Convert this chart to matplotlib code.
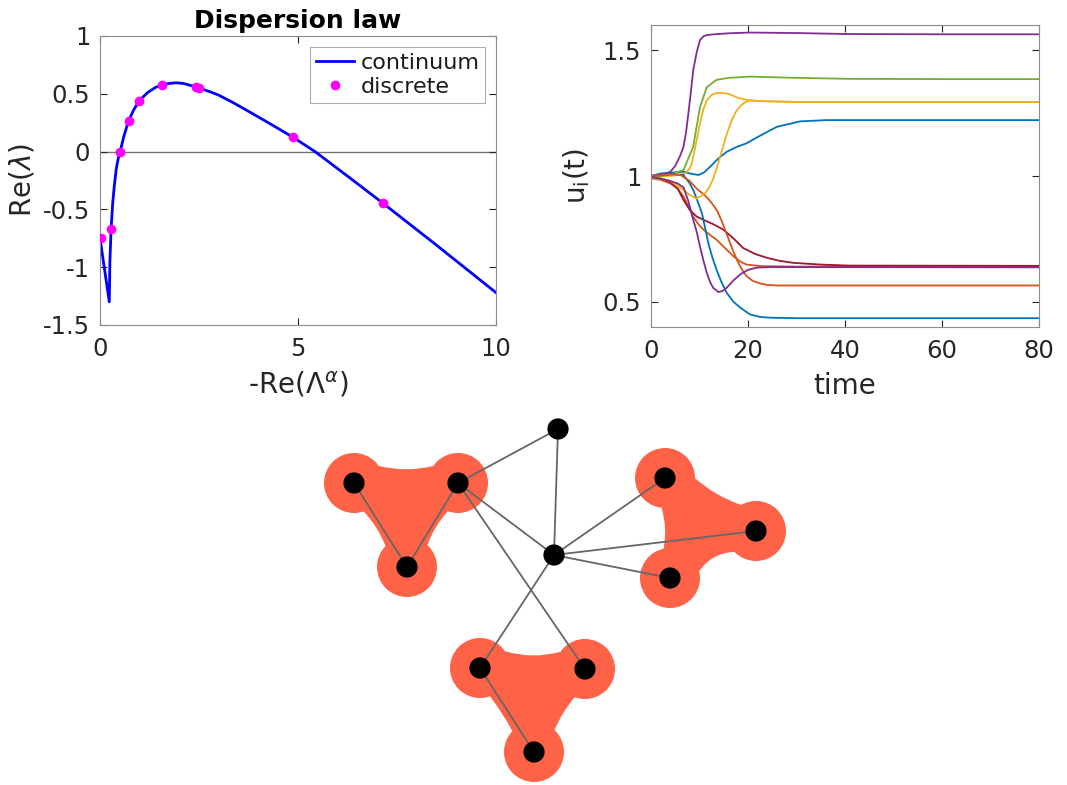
import numpy as np
import matplotlib
matplotlib.use('Agg')
import matplotlib.pyplot as plt
from matplotlib.path import Path
from matplotlib.patches import PathPatch, Circle

plt.rcParams['font.family'] = ['DejaVu Sans']
plt.rcParams['mathtext.fontset'] = 'dejavusans'

# ---------------- dispersion law ----------------
cont_x = [0, 0.235, 0.25, 0.28, 0.32, 0.36, 0.41, 0.46, 0.51, 0.6, 0.72, 0.85, 0.99,
          1.2, 1.4, 1.56, 1.75, 1.92, 2.1, 2.42, 2.8, 3.0, 3.37, 3.64, 4.2, 4.87, 5.43,
          6.3, 7.14, 8.5, 10]
cont_y = [-0.75, -1.30, -0.95, -0.67, -0.45, -0.30, -0.15, -0.06, 0.0, 0.13, 0.265,
          0.36, 0.44, 0.51, 0.555, 0.577, 0.59, 0.595, 0.59, 0.56, 0.515, 0.488, 0.422,
          0.37, 0.26, 0.125, 0.0, -0.225, -0.445, -0.81, -1.22]
disc_x = [0.03, 0.28, 0.51, 0.72, 0.99, 1.56, 2.42, 2.51, 4.87, 7.14]
disc_y = [-0.75, -0.67, 0.0, 0.264, 0.442, 0.577, 0.56, 0.548, 0.125, -0.445]

# ---------------- time series u_i(t) ----------------
series = [
    # (colour, t, u)
    ('#0072BD', [0, 2, 4, 6.7, 8, 9.8, 11, 12.2, 13.9, 15.6, 17.6, 19.7, 22, 25.9, 30.7, 36, 41, 80],
                [1.0, 1.01, 1.013, 1.017, 1.01, 1.004, 1.015, 1.037, 1.07, 1.096, 1.115, 1.13,
                 1.155, 1.195, 1.217, 1.222, 1.222, 1.222]),
    ('#D95319', [0, 2, 4, 5.5, 6.7, 7.7, 8.7, 9.7, 10.8, 12, 13.5, 15.2, 17, 18.4, 19.7, 22.5, 30, 80],
                [0.99, 0.985, 0.97, 0.95, 0.918, 0.88, 0.839, 0.81, 0.787, 0.768, 0.747, 0.715,
                 0.681, 0.66, 0.648, 0.642, 0.64, 0.64]),
    ('#EDB120', [0, 2, 4, 6, 7, 8, 8.4, 9.4, 10.1, 10.8, 11.5, 12.5, 13.5, 15, 16.3, 18, 19.7, 22, 30, 80],
                [0.995, 1.0, 1.0, 1.005, 1.01, 1.03, 1.05, 1.14, 1.21, 1.265, 1.30, 1.322, 1.33,
                 1.33, 1.324, 1.31, 1.303, 1.298, 1.294, 1.294]),
    ('#7E2F8E', [0, 2, 3, 4, 5, 5.5, 6, 6.7, 7.2, 7.7, 8.2, 8.7, 9.4, 10.1, 10.8, 11.5, 13, 16, 20.4,
                 30, 41, 60, 80],
                [1.0, 1.005, 1.01, 1.017, 1.04, 1.06, 1.08, 1.116, 1.17, 1.248, 1.33, 1.42, 1.49,
                 1.54, 1.555, 1.56, 1.563, 1.567, 1.57, 1.568, 1.564, 1.563, 1.563]),
    ('#77AC30', [0, 2, 4, 6.7, 8.7, 10.1, 11.5, 13.5, 16, 20.4, 30, 41, 60, 80],
                [1.0, 1.0, 1.005, 1.024, 1.116, 1.274, 1.353, 1.382, 1.39, 1.395, 1.39, 1.386,
                 1.385, 1.385]),
    ('#A2142F', [0, 2, 4, 5.5, 6.7, 8, 9.4, 11.5, 13, 14.9, 17, 19, 21.5, 23.9, 26.5, 29.3, 35, 41, 80],
                [0.995, 0.99, 0.975, 0.95, 0.905, 0.865, 0.839, 0.82, 0.807, 0.787, 0.752, 0.714,
                 0.69, 0.675, 0.663, 0.655, 0.648, 0.644, 0.643]),
    ('#0072BD', [0, 2, 4, 6.7, 8, 8.7, 9.6, 10.5, 11.2, 11.8, 12.6, 13.5, 14.5, 15.6, 17, 18.4, 20.4,
                 22.5, 24.5, 30, 80],
                [1.0, 1.005, 1.008, 1.004, 0.97, 0.945, 0.90, 0.853, 0.79, 0.734, 0.68, 0.628,
                 0.58, 0.536, 0.50, 0.477, 0.45, 0.44, 0.437, 0.435, 0.435]),
    ('#D95319', [0, 2, 4, 6, 8, 9.4, 11, 12, 12.8, 13.7, 14.6, 15.5, 16.3, 17.2, 18, 18.8, 19.7, 21,
                 22.5, 24, 25.9, 80],
                [1.0, 1.003, 1.006, 1.005, 0.98, 0.95, 0.925, 0.905, 0.885, 0.86, 0.82, 0.775,
                 0.734, 0.69, 0.655, 0.627, 0.602, 0.583, 0.573, 0.567, 0.565, 0.565]),
    ('#EDB120', [0, 2, 4, 6.7, 8, 9.4, 11.1, 12, 12.85, 13.7, 14.6, 15.6, 16.6, 17.5, 18.4, 19.4,
                 20.4, 22, 30, 80],
                [0.99, 0.99, 0.98, 0.945, 0.925, 0.91, 0.93, 0.955, 0.99, 1.04, 1.10, 1.165,
                 1.22, 1.255, 1.278, 1.293, 1.30, 1.298, 1.294, 1.294]),
    ('#7E2F8E', [0, 2, 4, 5.5, 6.7, 7.7, 8.7, 9.4, 10.1, 10.8, 11.5, 12.2, 12.8, 13.9, 14.8, 15.6,
                 17, 18.4, 20, 21.8, 25, 80],
                [0.995, 0.99, 0.98, 0.97, 0.955, 0.9, 0.826, 0.78, 0.72, 0.665, 0.615, 0.578,
                 0.556, 0.539, 0.543, 0.556, 0.585, 0.609, 0.627, 0.636, 0.638, 0.637]),
]

# ---------------- hypergraph layout (figure pixels) ----------------
node_x = [558, 554, 354, 458, 407, 665, 756, 670, 480, 585, 534]
node_y = [429, 555, 483, 483, 567, 478, 531, 578, 668, 669, 752]
edges = [(0, 3), (0, 1), (3, 1), (3, 9), (3, 4), (2, 4), (1, 5), (1, 6), (1, 7), (1, 8), (8, 10)]
triangles = [(2, 3, 4), (5, 6, 7), (8, 9, 10)]
# per side of each triangle: (offset where the side leaves the node circle,
#                             offset at the middle of the side), pixels from centre line
side_shape = [((17, 13.7), (6, 4), (7, 5)),
              ((15, 12.3), (8, 3), (5, 2.4)),
              ((17, 13), (6, 4.5), (7, 6))]

BLOB_R = 30
NODE_R = 10.6
BLOB_COLOR = '#FF6347'


def style_axes(ax):
    ax.tick_params(direction='in', length=5, width=0.8, top=True, right=True,
                   labelsize=17.5, colors='0.15', pad=7)
    ax.tick_params(axis='x', pad=9)
    for s in ax.spines.values():
        s.set_color('0.55')
        s.set_linewidth(0.8)


def blob_path(pts, shape, r):
    pts = np.asarray(pts, dtype=float)
    cen = pts.mean(axis=0)
    verts, codes = [], []
    for k in range(3):
        a, b = pts[k], pts[(k + 1) % 3]
        h, m = shape[k]
        d = b - a
        u = d / np.hypot(*d)
        n = np.array([-u[1], u[0]])
        if np.dot((a + b) / 2 - cen, n) < 0:
            n = -n
        s = np.sqrt(r ** 2 - h ** 2)
        p0 = a + h * n + s * u
        p2 = b + h * n - s * u
        c = (a + b) / 2 + (2 * m - h) * n
        verts.append(p0)
        codes.append(Path.MOVETO if k == 0 else Path.LINETO)
        verts += [c, p2]
        codes += [Path.CURVE3, Path.CURVE3]
    verts.append(verts[0])
    codes.append(Path.CLOSEPOLY)
    return Path(verts, codes)


fig = plt.figure(figsize=(10.67, 7.85), dpi=100)

# network panel spans the whole figure in pixel coordinates
axn = fig.add_axes([0, 0, 1, 1], zorder=0)
axn.set_xlim(0, 1067)
axn.set_ylim(785, 0)
axn.axis('off')
for tri, sh in zip(triangles, side_shape):
    pts = [(node_x[i], node_y[i]) for i in tri]
    axn.add_patch(PathPatch(blob_path(pts, sh, BLOB_R), facecolor=BLOB_COLOR,
                            edgecolor='none', zorder=1))
    for (px, py) in pts:
        axn.add_patch(Circle((px, py), BLOB_R, facecolor=BLOB_COLOR, edgecolor='none', zorder=1))
for i, j in edges:
    axn.plot([node_x[i], node_x[j]], [node_y[i], node_y[j]], color='#666666', lw=1.3, zorder=2)
for px, py in zip(node_x, node_y):
    axn.add_patch(Circle((px, py), NODE_R, facecolor='black', edgecolor='none', zorder=3))

# dispersion law
ax1 = fig.add_axes([100 / 1067, 1 - 325 / 785, 396 / 1067, 289 / 785], zorder=2)
ax1.axhline(0, color='0.45', lw=1.0, zorder=1)
ax1.plot(cont_x, cont_y, color='#0000FF', lw=2, label='continuum', zorder=2)
ax1.plot(disc_x, disc_y, 'o', color='#FF00FF', ms=7, mec='none', label='discrete', zorder=3)
ax1.set_xlim(0, 10)
ax1.set_ylim(-1.5, 1)
ax1.set_xticks([0, 5, 10])
ax1.set_xticklabels(['0', '5', '10'])
ax1.set_yticks([-1.5, -1, -0.5, 0, 0.5, 1])
ax1.set_yticklabels(['-1.5', '-1', '-0.5', '0', '0.5', '1'])
style_axes(ax1)
ax1.set_title('Dispersion law', fontsize=18, fontweight='bold', pad=6)
ax1.set_xlabel(r'-Re($\Lambda^{\alpha}$)', fontsize=20, color='0.15', labelpad=6)
ax1.set_ylabel(r'Re($\lambda$)', fontsize=20, color='0.15', labelpad=5)
leg = ax1.legend(loc='upper right', fontsize=16, frameon=True, fancybox=False,
                 handlelength=1.7, handletextpad=0.3, borderpad=0.25, labelspacing=0.2,
                 borderaxespad=0.5, numpoints=1)
leg.get_frame().set_edgecolor('0.6')
leg.get_frame().set_linewidth(0.8)
for t in leg.get_texts():
    t.set_color('0.1')

# time series
ax2 = fig.add_axes([651 / 1067, 1 - 327 / 785, 388 / 1067, 302 / 785], zorder=2)
for col, t, u in series:
    ax2.plot(t, u, color=col, lw=1.3)
ax2.set_xlim(0, 80)
ax2.set_ylim(0.4, 1.6)
ax2.set_xticks([0, 20, 40, 60, 80])
ax2.set_yticks([0.5, 1, 1.5])
ax2.set_yticklabels(['0.5', '1', '1.5'])
style_axes(ax2)
ax2.set_xlabel('time', fontsize=20, color='0.15', labelpad=6)
ax2.set_ylabel(r'u$_{\mathrm{i}}$(t)', fontsize=20, color='0.15', labelpad=8)

fig.savefig('out.png', dpi=100)
